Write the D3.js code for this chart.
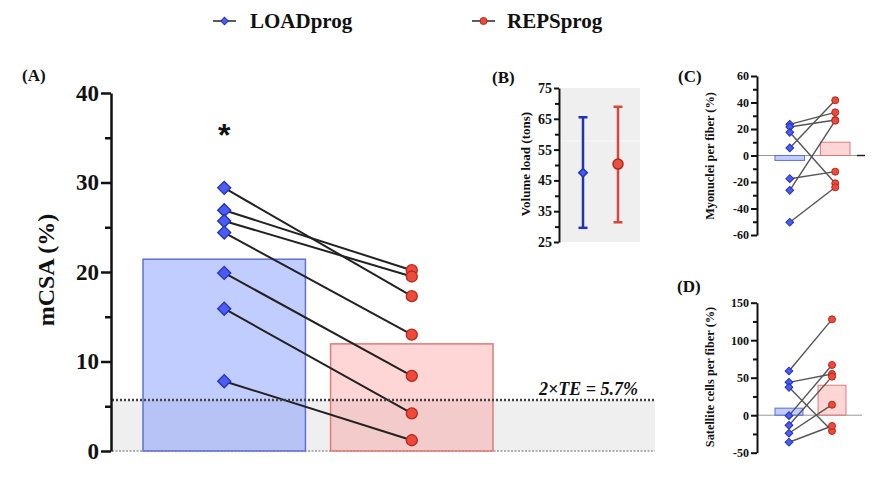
<!DOCTYPE html>
<html>
<head>
<meta charset="utf-8">
<script src="https://cdn.jsdelivr.net/npm/d3@7"></script>
<style>
  body { margin: 0; background: #fff; }
  text { font-family: "Liberation Serif", "Times New Roman", serif; font-weight: bold; fill: #111; }
</style>
</head>
<body>
<div id="chart"></div>
<script>
// groups
const groups = ["LOADprog", "REPSprog"];

// (A) mCSA change per subject
const mcsaLoad = [29.4, 26.9, 25.7, 24.4, 19.9, 15.9, 7.8];
const mcsaReps = [17.3, 20.2, 19.5, 13.0, 8.4, 4.2, 1.2];
const mcsaTicks = [0, 10, 20, 30, 40];
const teValue = 5.7;

// (B) volume load, mean and range
const volumeMean = [47.5, 50.3];
const volumeLow = [29.6, 31.4];
const volumeHigh = [65.5, 68.9];
const volumeTicks = [25, 35, 45, 55, 65, 75];

// (C) myonuclei per fiber
const myoLoad = [23.5, 21.5, 17.5, 5.7, -17.5, -26.3, -50.4];
const myoReps = [32.6, 26.8, -21.0, 41.7, -12.2, 26.3, -24.0];
const myoTicks = [-60, -40, -20, 0, 20, 40, 60];

// (D) satellite cells per fiber
const satLoad = [58.9, 43.8, 37.2, -0.6, -13.5, -24.1, -36.1];
const satReps = [127.8, 55.0, -21.0, 67.0, 51.4, 14.0, -14.4];
const satTicks = [-50, 0, 50, 100, 150];

const blueFill = "#4a5cf2", blueStroke = "#2432b8";
const redFill = "#ee4a3c", redStroke = "#b8261c";

const svg = d3.select("#chart").append("svg")
    .attr("width", 881)
    .attr("height", 488);

const diamond = d3.symbol().type(d3.symbolSquare);

// left axis with major + minor ticks
function drawAxis(x, y, majors, minors, opt) {
    const g = svg.append("g").attr("transform", `translate(${x},0)`);
    g.append("g")
        .call(d3.axisLeft(y).tickValues(minors).tickSize(opt.minor).tickSizeOuter(0).tickFormat(""))
        .call(s => s.select(".domain").remove())
        .selectAll("line").attr("stroke", "#111").attr("stroke-width", opt.sw);
    const ax = g.append("g")
        .call(d3.axisLeft(y).tickValues(majors).tickSize(opt.major).tickSizeOuter(0)
            .tickPadding(opt.pad).tickFormat(d => String(d)));
    ax.select(".domain").attr("stroke", "#111").attr("stroke-width", opt.sw);
    ax.selectAll("line").attr("stroke", "#111").attr("stroke-width", opt.sw);
    ax.selectAll("text")
        .style("font-family", "Liberation Serif")
        .style("font-weight", "bold")
        .style("font-size", opt.font + "px")
        .attr("fill", "#111");
    return g;
}

function yLabel(x, yc, txt, size) {
    svg.append("text")
        .attr("transform", `translate(${x},${yc}) rotate(-90)`)
        .attr("text-anchor", "middle")
        .style("font-size", size + "px")
        .text(txt);
}

function panelTag(x, y, txt, size) {
    svg.append("text").attr("x", x).attr("y", y).style("font-size", size + "px").text(txt);
}

// paired points + mean bars
function pairedPanel(x, y, load, reps, opt) {
    const bars = [d3.mean(load), d3.mean(reps)];
    svg.selectAll(null).data(groups).enter().append("rect")
        .attr("x", d => x(d))
        .attr("width", x.bandwidth())
        .attr("y", (d, i) => Math.min(y(bars[i]), y(0)))
        .attr("height", (d, i) => Math.abs(y(bars[i]) - y(0)))
        .attr("fill", (d, i) => i ? "rgb(255,120,120)" : "rgb(100,128,255)")
        .attr("fill-opacity", (d, i) => i ? 0.3 : 0.4)
        .attr("stroke", (d, i) => i ? "#e07a7a" : "#5f70d8")
        .attr("stroke-width", opt.barSw);

    const cx0 = x(groups[0]) + x.bandwidth() / 2;
    const cx1 = x(groups[1]) + x.bandwidth() / 2;

    svg.selectAll(null).data(load).enter().append("line")
        .attr("x1", cx0).attr("y1", d => y(d))
        .attr("x2", cx1).attr("y2", (d, i) => y(reps[i]))
        .attr("stroke", opt.lineColor).attr("stroke-width", opt.lineW);

    svg.selectAll(null).data(load).enter().append("path")
        .attr("d", diamond.size(opt.dSize))
        .attr("transform", d => `translate(${cx0},${y(d)}) rotate(45)`)
        .attr("fill", blueFill).attr("stroke", blueStroke).attr("stroke-width", opt.mSw);

    svg.selectAll(null).data(reps).enter().append("circle")
        .attr("cx", cx1).attr("cy", d => y(d)).attr("r", opt.r)
        .attr("fill", redFill).attr("stroke", redStroke).attr("stroke-width", opt.mSw);
}

// ---------- legend ----------
const legend = svg.append("g");
[[213, 250], [472, 507]].forEach((p, i) => {
    legend.append("line").attr("x1", p[0]).attr("x2", p[0] + 23).attr("y1", 21).attr("y2", 21)
        .attr("stroke", "#333").attr("stroke-width", 1.6);
    if (i === 0) {
        legend.append("path").attr("d", diamond.size(28))
            .attr("transform", `translate(${p[0] + 11.5},21) rotate(45)`)
            .attr("fill", blueFill).attr("stroke", blueStroke);
    } else {
        legend.append("circle").attr("cx", p[0] + 11.5).attr("cy", 21).attr("r", 3.5)
            .attr("fill", redFill).attr("stroke", redStroke);
    }
    legend.append("text").attr("x", p[1]).attr("y", 28).style("font-size", "21px").text(groups[i]);
});

// ---------- (A) ----------
const yA = d3.scaleLinear().domain([0, 40]).range([451, 93]);
const xA = d3.scaleBand().domain(groups).range([143, 493]).paddingInner(0.134);

svg.append("rect").attr("x", 112).attr("width", 543)
    .attr("y", yA(teValue)).attr("height", yA(0) - yA(teValue)).attr("fill", "#efefef");
svg.append("line").attr("x1", 112).attr("x2", 655).attr("y1", yA(0)).attr("y2", yA(0))
    .attr("stroke", "#999").attr("stroke-width", 1.5).attr("stroke-dasharray", "2,1.5");

pairedPanel(xA, yA, mcsaLoad, mcsaReps, {
    barSw: 1.5, lineColor: "#222", lineW: 2, dSize: 85, r: 5.5, mSw: 1.3
});

svg.append("line").attr("x1", 112).attr("x2", 655).attr("y1", yA(teValue)).attr("y2", yA(teValue))
    .attr("stroke", "#444").attr("stroke-width", 2.5).attr("stroke-dasharray", "2,2");
svg.append("text").attr("x", 638).attr("y", 395).attr("text-anchor", "end")
    .style("font-size", "18px").style("font-style", "italic").text("2×TE = 5.7%");

svg.append("text").attr("x", xA(groups[0]) + xA.bandwidth() / 2).attr("y", 146)
    .attr("text-anchor", "middle")
    .style("font-family", "Liberation Sans").style("font-size", "32px").text("*");

drawAxis(111, yA, mcsaTicks, d3.range(5, 40, 10), { major: 10, minor: 6, sw: 2.5, pad: 2, font: 23 });
yLabel(54, 270, "mCSA (%)", 24);
panelTag(22, 81, "(A)", 17);

// ---------- (B) ----------
const yB = d3.scaleLinear().domain([25, 75]).range([242, 88]);
const xB = d3.scalePoint().domain(groups).range([583, 618]);

svg.append("rect").attr("x", 561).attr("width", 79)
    .attr("y", yB(75)).attr("height", yB(25) - yB(75)).attr("fill", "#efefef");
svg.append("line").attr("x1", 561).attr("x2", 640).attr("y1", yB(57.8)).attr("y2", yB(57.8))
    .attr("stroke", "#fafafa").attr("stroke-width", 1);

const colB = [["#2233b0", "#3f5cff"], ["#d4473c", "#e5533f"]];
groups.forEach((g, i) => {
    const cx = xB(g);
    const c = colB[i][0];
    svg.append("line").attr("x1", cx).attr("x2", cx).attr("y1", yB(volumeLow[i])).attr("y2", yB(volumeHigh[i]))
        .attr("stroke", c).attr("stroke-width", 2.5);
    [volumeLow[i], volumeHigh[i]].forEach(v => {
        svg.append("line").attr("x1", cx - 4.5).attr("x2", cx + 4.5).attr("y1", yB(v)).attr("y2", yB(v))
            .attr("stroke", c).attr("stroke-width", 2.5);
    });
    if (i === 0) {
        svg.append("path").attr("d", diamond.size(36))
            .attr("transform", `translate(${cx},${yB(volumeMean[i])}) rotate(45)`)
            .attr("fill", colB[i][1]).attr("stroke", c).attr("stroke-width", 1.5);
    } else {
        svg.append("circle").attr("cx", cx).attr("cy", yB(volumeMean[i])).attr("r", 5)
            .attr("fill", colB[i][1]).attr("stroke", "#b8261c").attr("stroke-width", 1.5);
    }
});

drawAxis(559, yB, volumeTicks, d3.range(30, 75, 10), { major: 5, minor: 4, sw: 2, pad: 2, font: 14 });
yLabel(530, 164, "Volume load (tons)", 13);
panelTag(492, 83, "(B)", 17);

// ---------- (C) ----------
const yC = d3.scaleLinear().domain([-60, 60]).range([235, 76]);
const xC = d3.scaleBand().domain(groups).range([775, 850]).paddingInner(0.35);

svg.append("line").attr("x1", 757).attr("x2", 862).attr("y1", yC(0)).attr("y2", yC(0))
    .attr("stroke", "#999").attr("stroke-width", 1);
pairedPanel(xC, yC, myoLoad, myoReps, {
    barSw: 1, lineColor: "#555", lineW: 1.4, dSize: 30, r: 3.5, mSw: 1
});
svg.append("line").attr("x1", 857).attr("x2", 865).attr("y1", yC(0)).attr("y2", yC(0))
    .attr("stroke", "#222").attr("stroke-width", 1.5);

drawAxis(757, yC, myoTicks, d3.range(-50, 60, 20), { major: 6, minor: 4, sw: 2, pad: 2, font: 12 });
yLabel(714, 156, "Myonuclei per fiber (%)", 12.3);
panelTag(678, 82, "(C)", 17);

// ---------- (D) ----------
const yD = d3.scaleLinear().domain([-50, 150]).range([452.7, 302.7]);
const xD = d3.scaleBand().domain(groups).range([775, 846]).paddingInner(0.35);

svg.append("line").attr("x1", 757).attr("x2", 862).attr("y1", yD(0)).attr("y2", yD(0))
    .attr("stroke", "#999").attr("stroke-width", 1);
pairedPanel(xD, yD, satLoad, satReps, {
    barSw: 1, lineColor: "#555", lineW: 1.4, dSize: 30, r: 3.5, mSw: 1
});

drawAxis(757, yD, satTicks, d3.range(-25, 150, 50), { major: 6, minor: 4, sw: 2, pad: 2, font: 12 });
yLabel(714, 377, "Satellite cells per fiber (%)", 12.3);
panelTag(677, 292, "(D)", 17);
</script>
</body>
</html>
